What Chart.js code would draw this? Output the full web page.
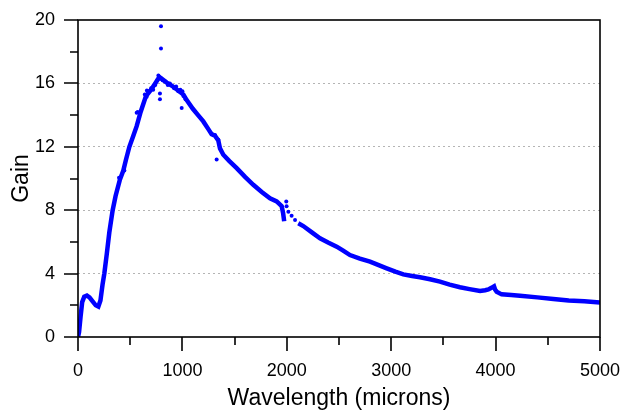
<!DOCTYPE html>
<html>
<head>
<meta charset="utf-8">
<script src="https://cdn.jsdelivr.net/npm/chart.js@4/dist/chart.umd.min.js"></script>
<style>
  html, body { margin: 0; padding: 0; background: #fff; }
  #wrap { width: 623px; height: 412px; position: relative; }
</style>
</head>
<body>
<div id="wrap"><canvas id="c" width="623" height="412"></canvas></div>
<script>
// Main curve (wavelength in microns, gain)
const wavelength = [0, 10, 25, 40, 60, 85, 110, 140, 170, 195, 215, 235, 252, 275, 300, 332, 360, 400, 434, 460, 492, 530, 562, 600, 651, 700, 750, 779, 800, 850, 900, 950, 1009, 1041, 1100, 1150, 1200, 1250, 1280, 1312, 1344, 1360, 1392, 1450, 1520, 1600, 1679, 1760, 1839, 1903, 1951, 1965, 1975, 1990, 2110, 2158, 2240, 2318, 2400, 2478, 2540, 2605, 2700, 2797, 2880, 2957, 3040, 3116, 3200, 3276, 3372, 3467, 3560, 3659, 3750, 3851, 3900, 3931, 3960, 3985, 3995, 4010, 4058, 4150, 4234, 4400, 4553, 4700, 4850, 5000];
const gain = [0, 0.3, 1.3, 2.2, 2.55, 2.62, 2.5, 2.25, 2.0, 1.92, 2.3, 3.3, 4.0, 5.2, 6.6, 8.0, 8.9, 9.9, 10.5, 11.2, 12.0, 12.7, 13.3, 14.2, 15.2, 15.6, 16.1, 16.4, 16.3, 16.05, 15.85, 15.6, 15.3, 14.95, 14.4, 14.0, 13.6, 13.1, 12.8, 12.7, 12.4, 11.9, 11.5, 11.1, 10.65, 10.1, 9.6, 9.15, 8.75, 8.55, 8.25, 7.8, 7.3, null, 7.17, 7.0, 6.6, 6.23, 5.95, 5.7, 5.45, 5.17, 4.95, 4.75, 4.53, 4.33, 4.12, 3.95, 3.85, 3.77, 3.64, 3.49, 3.3, 3.14, 3.02, 2.9, 2.95, 3.0, 3.1, 3.2, 3.0, 2.86, 2.69, 2.65, 2.6, 2.5, 2.4, 2.3, 2.25, 2.17];

// Scattered individual readings (noisy points and outliers)
const scatterWl = [393, 444, 562, 572, 640, 658, 660, 680, 700, 720, 740, 760, 770, 785, 785, 795, 795, 790, 810, 830, 860, 880, 920, 940, 960, 980, 993, 1000, 1010, 1030, 1312, 1328, 1344, 1995, 1998, 2015, 2046, 2079];
const scatterGain = [10.05, 10.5, 14.15, 14.2, 15.3, 15.16, 15.55, 15.5, 15.7, 15.6, 15.9, 16.2, 16.5, 15.0, 15.37, 19.6, 18.2, 16.35, 16.2, 16.15, 15.9, 16.0, 15.7, 15.8, 15.5, 15.6, 14.45, 15.5, 15.2, 15.0, 12.75, 11.2, 12.45, 8.55, 8.25, 7.9, 7.65, 7.38];

// Axis ticks
const xMajorTicks = [0, 1000, 2000, 3000, 4000, 5000];
const xMinorTicks = [500, 1500, 2500, 3500, 4500];
const yMajorTicks = [0, 4, 8, 12, 16, 20];
const yMinorTicks = [2, 6, 10, 14, 18];
const yGridLines = [4, 8, 12, 16];

const BLUE = '#0000ff';
const FONT = "'Liberation Sans', Arial, sans-serif";

const mainData = wavelength.map((w, i) => ({ x: w, y: gain[i] }));
const scatterData = scatterWl.map((w, i) => ({ x: w, y: scatterGain[i] }));

const framePlugin = {
  id: 'frame',
  afterDraw(chart) {
    const { ctx, chartArea: a, scales: { x, y } } = chart;
    ctx.save();
    ctx.strokeStyle = '#000';
    ctx.lineWidth = 1.6;
    ctx.strokeRect(a.left, a.top, a.right - a.left, a.bottom - a.top);
    ctx.beginPath();
    xMajorTicks.forEach(v => { const p = Math.round(x.getPixelForValue(v)); ctx.moveTo(p, a.bottom); ctx.lineTo(p, a.bottom + 14); });
    xMinorTicks.forEach(v => { const p = Math.round(x.getPixelForValue(v)); ctx.moveTo(p, a.bottom); ctx.lineTo(p, a.bottom + 8); });
    yMajorTicks.forEach(v => { const p = Math.round(y.getPixelForValue(v)); ctx.moveTo(a.left, p); ctx.lineTo(a.left - 14, p); });
    yMinorTicks.forEach(v => { const p = Math.round(y.getPixelForValue(v)); ctx.moveTo(a.left, p); ctx.lineTo(a.left - 8, p); });
    ctx.stroke();
    ctx.restore();
  }
};

new Chart(document.getElementById('c'), {
  type: 'scatter',
  data: {
    datasets: [
      {
        data: mainData,
        showLine: true,
        spanGaps: false,
        borderColor: BLUE,
        backgroundColor: BLUE,
        borderWidth: 4.5,
        pointRadius: 0,
        tension: 0
      },
      {
        data: scatterData,
        showLine: false,
        borderColor: BLUE,
        backgroundColor: BLUE,
        pointRadius: 2,
        pointBorderWidth: 0
      }
    ]
  },
  options: {
    responsive: false,
    animation: false,
    layout: { padding: { top: 20, right: 23, left: 0, bottom: 0 } },
    plugins: { legend: { display: false }, tooltip: { enabled: false } },
    scales: {
      x: {
        type: 'linear',
        min: 0, max: 5000,
        afterFit(s) { s.height = 75; s.paddingLeft = 0; s.paddingRight = 0; },
        afterBuildTicks(s) { s.ticks = xMajorTicks.map(v => ({ value: v })); },
        grid: { display: false, drawTicks: false },
        border: { display: false },
        ticks: { color: '#000', font: { family: FONT, size: 18 }, padding: 23, maxRotation: 0, callback: v => String(v) },
        title: { display: true, text: 'Wavelength (microns)', color: '#000', font: { family: FONT, size: 23 }, padding: { top: 0, bottom: 0 } }
      },
      y: {
        type: 'linear',
        min: 0, max: 20,
        afterFit(s) { s.width = 78; s.paddingTop = 0; s.paddingBottom = 0; },
        afterBuildTicks(s) { s.ticks = yMajorTicks.map(v => ({ value: v })); },
        grid: {
          drawTicks: false,
          lineWidth: 1,
          color: c => yGridLines.includes(c.tick && c.tick.value) ? '#b4b4b4' : 'rgba(0,0,0,0)'
        },
        border: { display: false, dash: [2, 3] },
        ticks: { color: '#000', font: { family: FONT, size: 18 }, padding: 23, callback: v => String(v) },
        title: { display: true, text: 'Gain', color: '#000', font: { family: FONT, size: 23 }, padding: { top: 8, bottom: 0 } }
      }
    }
  },
  plugins: [framePlugin]
});
</script>
</body>
</html>
